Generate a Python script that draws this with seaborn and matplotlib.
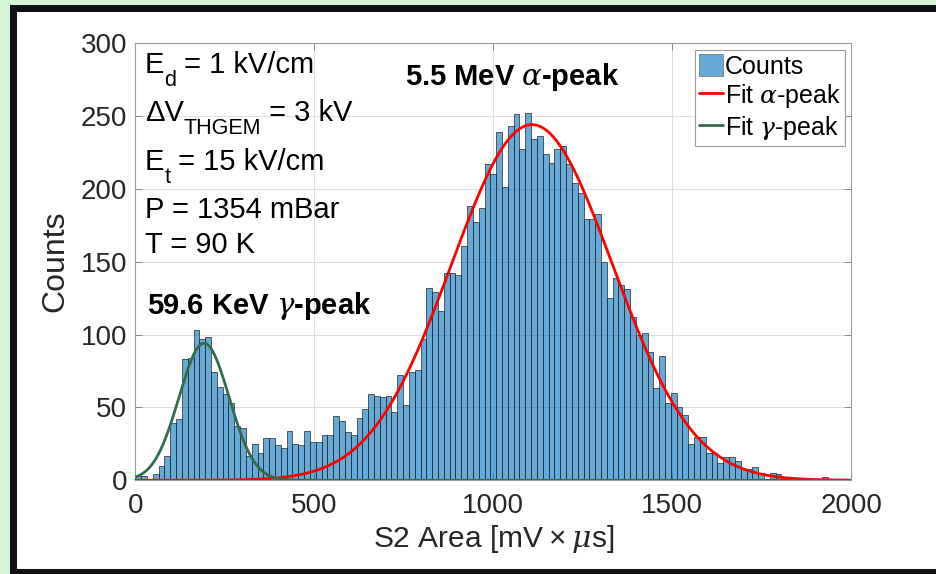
import numpy as np
import pandas as pd
import matplotlib
matplotlib.use("Agg")
import matplotlib.pyplot as plt
from matplotlib.patches import Rectangle, Patch
from matplotlib.lines import Line2D
import seaborn as sns

# ---- histogram of S2 areas (123 bins between 0 and 2000 mV x us) ----
x_range = (0, 2000)
n_bins = 123
counts = [
    3, 3, 1, 4, 10, 17, 39, 42, 83, 84,
    103, 97, 98, 74, 64, 59, 53, 37, 36, 17,
    25, 19, 29, 29, 24, 22, 34, 25, 24, 34,
    26, 26, 31, 31, 44, 41, 33, 31, 43, 49,
    59, 58, 57, 58, 47, 72, 52, 74, 76, 97,
    132, 129, 116, 142, 142, 141, 161, 188, 177, 187,
    217, 210, 239, 201, 243, 251, 227, 252, 234, 236,
    224, 218, 227, 229, 217, 204, 197, 179, 179, 183,
    150, 125, 139, 134, 131, 112, 100, 101, 88, 63,
    85, 53, 60, 50, 45, 25, 30, 30, 19, 19,
    12, 16, 16, 13, 8, 8, 9, 5, 1, 5,
    4, 2, 1, 1, 0, 1, 1, 0, 2, 1,
    1, 1, 0,
]

# ---- Gaussian fit parameters: (amplitude, mean, sigma) ----
alpha_fit = (244.0, 1108.0, 225.0)
gamma_fit = (94.0, 192.0, 70.0)

x_ticks = [0, 500, 1000, 1500, 2000]
y_ticks = [0, 50, 100, 150, 200, 250, 300]

# run conditions: pieces of each line, (text, is_subscript)
conditions = [
    [("E", False), ("d", True), (" = 1 kV/cm", False)],
    [("ΔV", False), ("THGEM", True), (" = 3 kV", False)],
    [("E", False), ("t", True), (" = 15 kV/cm", False)],
    [("P = 1354 mBar", False)],
    [("T = 90 K", False)],
]
alpha_label = r"5.5 MeV $\alpha$-peak"
gamma_label = r"59.6 KeV $\gamma$-peak"


def gauss(x, amp, mu, sig):
    return amp * np.exp(-(x - mu) ** 2 / (2.0 * sig ** 2))


sns.set_style("white")
plt.rcParams["font.family"] = ["Liberation Sans", "DejaVu Sans"]
plt.rcParams["mathtext.fontset"] = "custom"
plt.rcParams["mathtext.rm"] = "Liberation Sans"
plt.rcParams["mathtext.sf"] = "Liberation Sans"
plt.rcParams["mathtext.it"] = "DejaVu Serif:italic"
plt.rcParams["mathtext.bf"] = "Liberation Sans:bold"

W, H = 936, 574
fig = plt.figure(figsize=(W / 100, H / 100), dpi=100)
fig.patch.set_facecolor("#d4f5d6")

# window frame: black border with white panel, running off the right edge
fig.patches.append(Rectangle((10 / W, 0), 1.0, (H - 5) / H, transform=fig.transFigure,
                             facecolor="#111111", edgecolor="none", zorder=-2))
fig.patches.append(Rectangle((17 / W, 5 / H), 1.0, (H - 17) / H, transform=fig.transFigure,
                             facecolor="white", edgecolor="none", zorder=-1))

ax = fig.add_axes([135.3 / W, 1 - 480.3 / H, 716 / W, 437.3 / H])
ax.set_facecolor("white")

bin_width = (x_range[1] - x_range[0]) / n_bins
centers = x_range[0] + bin_width * (np.arange(n_bins) + 0.5)
hist_df = pd.DataFrame({"area": centers, "counts": counts})
bar_color = (0.0, 0.447, 0.741)

sns.histplot(data=hist_df, x="area", weights="counts", binwidth=bin_width,
             binrange=x_range, ax=ax, color=bar_color, alpha=0.6,
             edgecolor=(0.15, 0.15, 0.15), linewidth=0.5, zorder=2)

xf = np.linspace(x_range[0], x_range[1], 800)
sns.lineplot(x=xf, y=gauss(xf, *alpha_fit), ax=ax, color="#ff0000", linewidth=2.0, zorder=3)
sns.lineplot(x=xf, y=gauss(xf, *gamma_fit), ax=ax, color="#336b4d", linewidth=2.0, zorder=3)

ax.set_xlim(*x_range)
ax.set_ylim(0, 300)
ax.set_xticks(x_ticks)
ax.set_yticks(y_ticks)
ax.grid(True, color="#dcdcdc", linewidth=0.7)
ax.set_axisbelow(True)
for s in ax.spines.values():
    s.set_visible(True)
    s.set_color("#9a9a9a")
    s.set_linewidth(0.8)
ax.tick_params(direction="in", length=5, width=0.7, color="#8a8a8a",
               labelsize=20, labelcolor="#262626", top=True, right=True,
               left=True, bottom=True)
ax.tick_params(axis="x", pad=9)
ax.tick_params(axis="y", pad=6)

ax.set_xlabel("S2 Area [mV\u2009×\u2009$\\mu$s]", fontsize=21.5, color="#262626", labelpad=3)
ax.set_ylabel("Counts", fontsize=23, color="#262626", labelpad=7)

# run conditions block, subscripts chained after their base text
main_fs, sub_fs = 21, 15.5
sub_offset_pt = -8.9
baselines = [73, 121, 170, 218, 253]
for pieces, yb in zip(conditions, baselines):
    first = ax.text((145 - 135.3) / 716, (480.3 - yb) / 437.3, pieces[0][0],
                    transform=ax.transAxes, fontsize=main_fs, color="black",
                    va="baseline", ha="left")
    prev = first
    for txt, is_sub in pieces[1:]:
        if is_sub:
            prev = ax.annotate(txt, xy=(1, 0), xycoords=prev, xytext=(0, sub_offset_pt),
                               textcoords="offset points", fontsize=sub_fs,
                               color="black", va="bottom", ha="left")
        else:
            prev = ax.annotate(txt, xy=(1, 0), xycoords=(prev, first), xytext=(0, 0),
                               textcoords="offset points", fontsize=main_fs,
                               color="black", va="bottom", ha="left")

ax.text((405 - 135.3) / 716, (480.3 - 85) / 437.3, alpha_label, transform=ax.transAxes,
        fontsize=21, fontweight="bold", color="black", va="baseline", ha="left")
ax.text((147 - 135.3) / 716, (480.3 - 314) / 437.3, gamma_label, transform=ax.transAxes,
        fontsize=21, fontweight="bold", color="black", va="baseline", ha="left")

handles = [
    Patch(facecolor=bar_color + (0.6,), edgecolor=(0.15, 0.15, 0.15, 0.6), linewidth=0.5),
    Line2D([], [], color="#ff0000", linewidth=2.0),
    Line2D([], [], color="#336b4d", linewidth=2.0),
]
labels = ["Counts", r"Fit $\alpha$-peak", r"Fit $\gamma$-peak"]
leg = ax.legend(handles, labels, loc="upper right",
                bbox_to_anchor=(845 / W, 1 - 50 / H), bbox_transform=fig.transFigure,
                fontsize=18, frameon=True, fancybox=False, framealpha=1,
                edgecolor="#9a9a9a", handlelength=0.95, handleheight=1.0,
                handletextpad=0.1, labelspacing=0.15, borderpad=0.15,
                borderaxespad=0)
leg.get_frame().set_linewidth(0.8)
for t in leg.get_texts():
    t.set_color("black")

fig.savefig("out.png", dpi=100, facecolor=fig.get_facecolor())
